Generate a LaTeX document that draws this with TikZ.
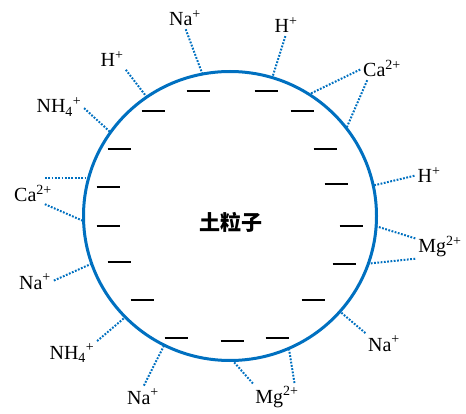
\documentclass[tikz,border=0pt]{standalone}
\usepackage{fontspec}
\setmainfont{Liberation Serif}
\newfontfamily\cjk{Noto Sans CJK SC}
\usetikzlibrary{shapes.geometric, positioning, calc}
\definecolor{soilblue}{RGB}{0,112,192}

\begin{document}
\begin{tikzpicture}[
  x=1pt, y=-1pt,
  grain/.style={ellipse, draw=soilblue, line width=3pt, inner sep=0pt, outer sep=0pt,
                minimum width=293pt, minimum height=289pt},
  ion/.style={anchor=base, inner sep=1pt, font=\fontsize{20}{24}\selectfont},
  link/.style={draw=soilblue, line width=2pt, dash pattern=on 1.8pt off 1.5pt,
               shorten <=2pt},
  charge/.style={draw=black, line width=1.8pt},
]
  \useasboundingbox (0,0) rectangle (466,414);

  % Soil particle
  \node[grain] (particle) at (230,216) {};
  \node[font={\cjk\bfseries\fontsize{21}{25}\selectfont}] (name) at (231,222) {土粒子};

  % Negative charges on the surface
  \foreach \x/\y in {198/91, 266/91, 153/111, 302/111, 119/149, 325/149,
                     108/187, 336/184, 108/226, 351/226, 119/262, 344/264,
                     142/300, 313/300, 176/338, 232/341, 277/338}
    \draw[charge] (\x-11.5,\y) -- (\x+11.5,\y);

  % Cations
  \node[ion] (na1) at (185,26)  {Na\textsuperscript{+}};
  \node[ion] (h1)  at (112,67)  {H\textsuperscript{+}};
  \node[ion] (nh1) at (59,113)  {NH\textsubscript{4}\textsuperscript{+}};
  \node[ion] (ca1) at (33,202)  {Ca\textsuperscript{2+}};
  \node[ion] (na2) at (35,289)  {Na\textsuperscript{+}};
  \node[ion] (nh2) at (72,359)  {NH\textsubscript{4}\textsuperscript{+}};
  \node[ion] (na3) at (143,404) {Na\textsuperscript{+}};
  \node[ion] (mg1) at (277,403) {Mg\textsuperscript{2+}};
  \node[ion] (na4) at (384,351) {Na\textsuperscript{+}};
  \node[ion] (mg2) at (440,253) {Mg\textsuperscript{2+}};
  \node[ion] (h2)  at (429,183) {H\textsuperscript{+}};
  \node[ion] (ca2) at (382,77)  {Ca\textsuperscript{2+}};
  \node[ion] (h3)  at (286,33)  {H\textsuperscript{+}};

  % Dotted links to the surface
  \draw[link] (na1.south) -- (particle.101.7);
  \draw[link] (h1.south east) -- (particle.125.2);
  \draw[link] (nh1.east) -- (particle.145.8);
  \draw[link] ([xshift=10pt]ca1.north |- particle.165) -- (particle.165);
  \draw[link] ([xshift=10pt]ca1.south) -- (particle.182.3);
  \draw[link] (na2.east) -- (particle.199.3);
  \draw[link] (nh2.north east) -- (particle.224.2);
  \draw[link] (na3.north) -- (particle.243.4);
  \draw[link] (mg1.north west) -- (particle.271.2);
  \draw[link] ([xshift=-5pt]mg1.north east) -- (particle.294.3);
  \draw[link] (na4.north west) -- (particle.319.7);
  \draw[link] (mg2.south west) -- (particle.341.1);
  \draw[link] ([yshift=-4pt]mg2.north west) -- (particle.356.9);
  \draw[link] (h2.west) -- (particle.12.8);
  \draw[link] ([xshift=6pt]ca2.south west) -- (particle.37.8);
  \draw[link] (ca2.west) -- (particle.57);
  \draw[link] (h3.south) -- (particle.73.5);

\end{tikzpicture}
\end{document}
